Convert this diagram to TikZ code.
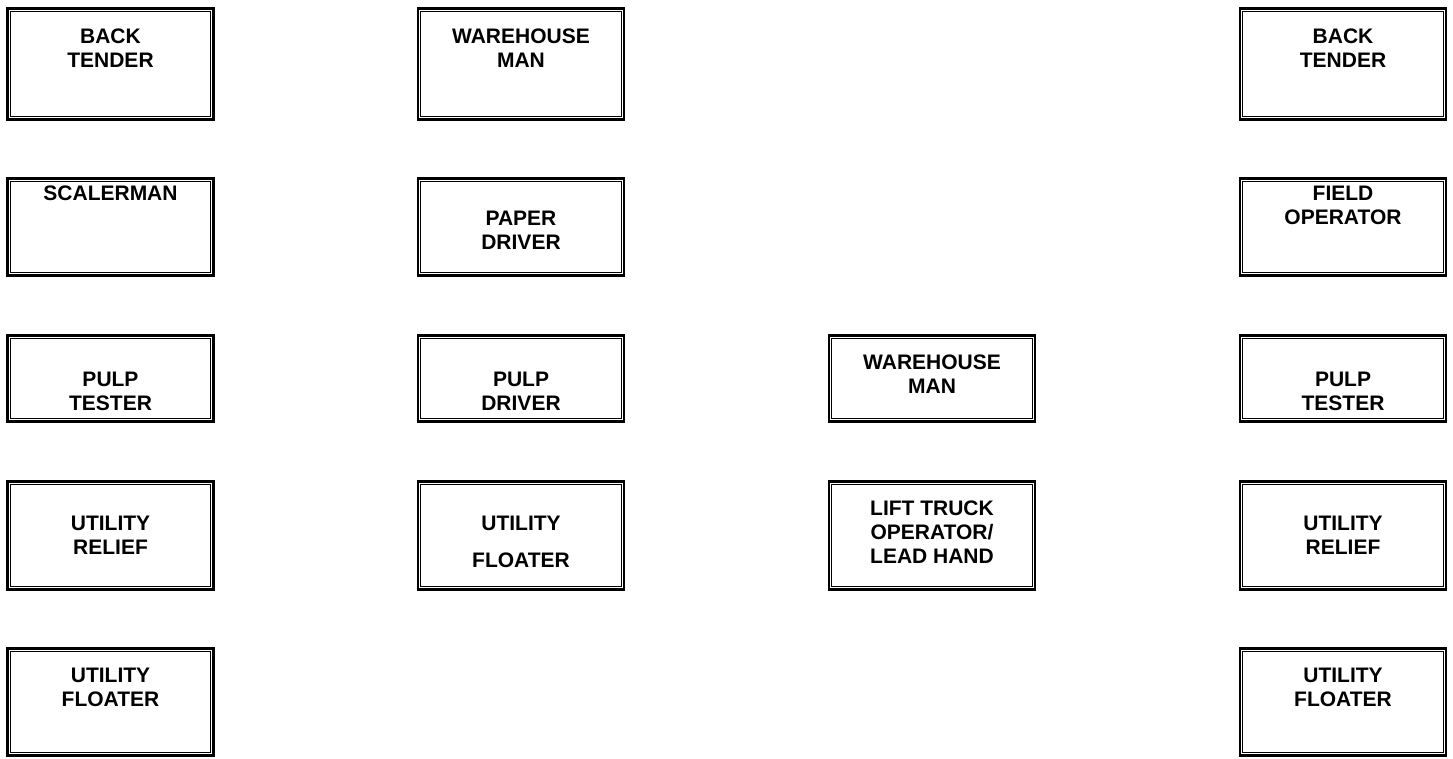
\documentclass[tikz,border=0pt]{standalone}
\usepackage{fontspec}
\setmainfont{Liberation Sans}[BoldFont={Liberation Sans Bold}]
\begin{document}
\begin{tikzpicture}[x=1pt,y=-1pt,
  jobbox/.style={draw, line width=2.6pt, minimum width=206pt, inner sep=0pt, rectangle},
  inline/.style={line width=0.9pt},
  lbl/.style={anchor=north, inner sep=0pt, align=center, font=\fontsize{21}{24}\selectfont\bfseries}]
\useasboundingbox[fill=white] (0,0) rectangle (1453,758);
% box helper: name, center x, top y, bottom y (outer line centres)
\newcommand\jbx[4]{%
  \node[jobbox, minimum height={#4-#3}] (#1) at (#2,{(#3+#4)/2}) {};
  \draw[inline] ([shift={(4.2,4.2)}]#1.north west) rectangle ([shift={(-4.2,-4.2)}]#1.south east);}
% column 1
\jbx{a1}{110.5}{8.5}{119.5}
\jbx{a2}{110.5}{178.5}{275.5}
\jbx{a3}{110.5}{335.5}{421.5}
\jbx{a4}{110.5}{481.5}{589.5}
\jbx{a5}{110.5}{648.5}{755.5}
% column 2
\jbx{b1}{521}{8.5}{119.5}
\jbx{b2}{521}{178.5}{275.5}
\jbx{b3}{521}{335.5}{421.5}
\jbx{b4}{521}{481.5}{589.5}
% column 3
\jbx{c3}{932}{335.5}{421.5}
\jbx{c4}{932}{481.5}{589.5}
% column 4
\jbx{d1}{1343}{8.5}{119.5}
\jbx{d2}{1343}{178.5}{275.5}
\jbx{d3}{1343}{335.5}{421.5}
\jbx{d4}{1343}{481.5}{589.5}
\jbx{d5}{1343}{648.5}{755.5}
% labels
\node[lbl] (ta1) at (110.5,29) {BACK\\TENDER};
\node[lbl] (ta2) at (110.5,186) {SCALERMAN};
\node[lbl] (ta3) at (110.5,372) {PULP\\TESTER};
\node[lbl] (ta4) at (110.5,516) {UTILITY\\RELIEF};
\node[lbl] (ta5) at (110.5,668) {UTILITY\\FLOATER};
\node[lbl] (tb1) at (521,29) {WAREHOUSE\\MAN};
\node[lbl] (tb2) at (521,211) {PAPER\\DRIVER};
\node[lbl] (tb3) at (521,372) {PULP\\DRIVER};
\node[lbl] (tb4) at (521,516) {UTILITY\\[13pt]FLOATER};
\node[lbl] (tc3) at (932,355) {WAREHOUSE\\MAN};
\node[lbl] (tc4) at (932,501) {LIFT TRUCK\\OPERATOR/\\LEAD HAND};
\node[lbl] (td1) at (1343,29) {BACK\\TENDER};
\node[lbl] (td2) at (1343,186) {FIELD\\OPERATOR};
\node[lbl] (td3) at (1343,372) {PULP\\TESTER};
\node[lbl] (td4) at (1343,516) {UTILITY\\RELIEF};
\node[lbl] (td5) at (1343,668) {UTILITY\\FLOATER};
\end{tikzpicture}
\end{document}
